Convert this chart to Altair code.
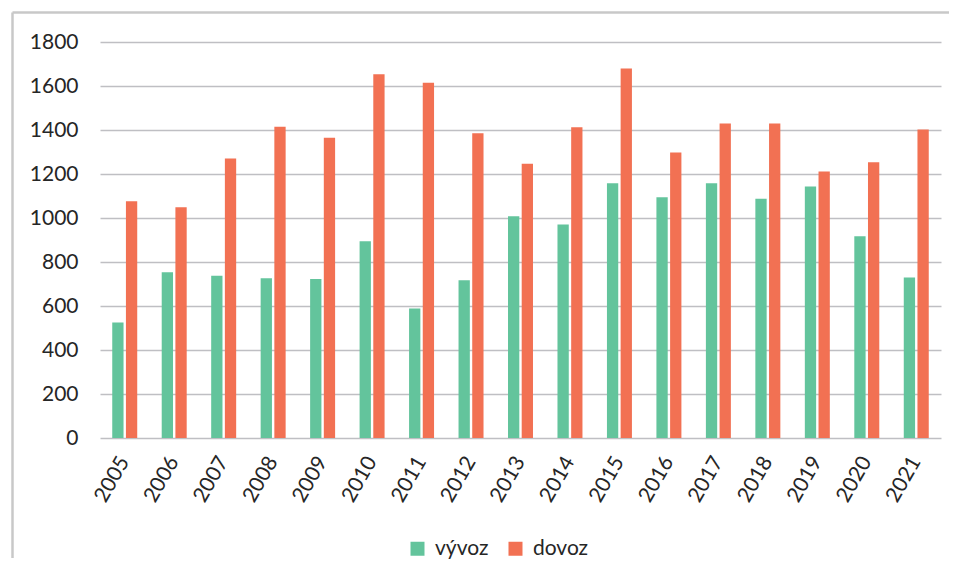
import altair as alt
import pandas as pd

years = [str(y) for y in range(2005, 2022)]
vyvoz = [525, 753, 738, 726, 723, 894, 589, 717, 1008, 971, 1158, 1094, 1158, 1088, 1143, 917, 729]
dovoz = [1076, 1049, 1271, 1415, 1365, 1653, 1615, 1385, 1247, 1412, 1679, 1298, 1429, 1429, 1211, 1253, 1402]
series = ["vývoz", "dovoz"]
colors = ["#63C49C", "#F27153"]
y_ticks = list(range(0, 1801, 200))

df = pd.DataFrame({
    "rok": years * 2,
    "séria": [series[0]] * len(years) + [series[1]] * len(years),
    "hodnota": vyvoz + dovoz,
})

FONT = "Lato"
TXT = "#262626"

bars = alt.Chart(df).mark_bar().encode(
    x=alt.X("rok:N", sort=years,
            scale=alt.Scale(paddingInner=0.495, paddingOuter=0.2475),
            axis=alt.Axis(title=None, labelAngle=-60, ticks=False, domain=False,
                          labelFontSize=21, labelPadding=20, labelColor=TXT,
                          labelFont=FONT, grid=False)),
    xOffset=alt.XOffset("séria:N", sort=series, scale=alt.Scale(paddingInner=0.175)),
    y=alt.Y("hodnota:Q", scale=alt.Scale(domain=[0, 1800], nice=False),
            axis=alt.Axis(title=None, values=y_ticks, format="d", ticks=False, domain=False,
                          labelFontSize=21, labelPadding=22, labelColor=TXT,
                          labelFont=FONT, gridColor="#BFBFC3", gridWidth=1.4)),
    color=alt.Color("séria:N", sort=series,
                    scale=alt.Scale(domain=series, range=colors),
                    legend=alt.Legend(title=None, orient="none", legendX=307, legendY=496,
                                      direction="horizontal", symbolType="square",
                                      symbolSize=196, symbolStrokeWidth=0,
                                      labelFontSize=21, labelFont=FONT, labelColor=TXT,
                                      labelOffset=7, columnPadding=16)),
)

frame_df = pd.DataFrame({"k": [0]})
top_line = alt.Chart(frame_df).mark_rule(color="#C8C8C8", strokeWidth=2.5).encode(
    x=alt.value(-87.5), x2=alt.value(849), y=alt.value(-29.5), y2=alt.value(-29.5))
left_line = alt.Chart(frame_df).mark_rule(color="#C8C8C8", strokeWidth=2.5).encode(
    x=alt.value(-87.5), x2=alt.value(-87.5), y=alt.value(-29.5), y2=alt.value(516))

chart = alt.layer(bars, top_line, left_line).properties(
    width=841, height=396,
    autosize=alt.AutoSizeParams(type="none"),
    padding={"left": 92, "top": 34, "right": 10, "bottom": 122},
    background="white",
).configure_view(strokeWidth=0, stroke="transparent")

chart.save("out.html", embed_options={"renderer": "svg", "actions": False})
